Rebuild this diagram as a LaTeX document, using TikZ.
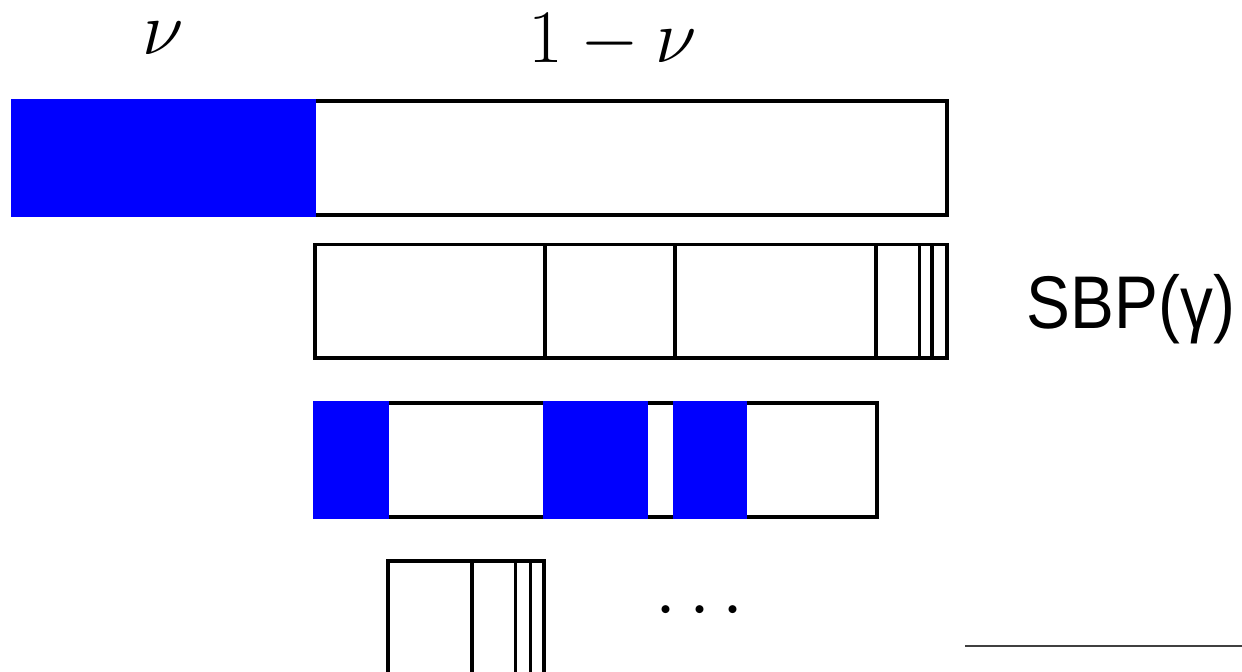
\RequirePackage{fix-cm}
\documentclass[tikz,border=0pt]{standalone}
\usepackage{fontspec}
\newfontfamily\sbpfont{Liberation Sans}
\begin{document}
\begin{tikzpicture}[x=0.02cm,y=-0.02cm]
  \tikzstyle{barStyle}=[line width=2pt,draw=black]
  \tikzstyle{blueStyle}=[fill=blue]
  \tikzstyle{mathStyle}=[inner sep=0pt,anchor=base,font=\fontsize{43}{50}\selectfont]
  \tikzstyle{sbpStyle}=[inner sep=0pt,anchor=base,font=\fontsize{42.5}{50}\sbpfont]
  \tikzstyle{ruleStyle}=[line width=1.2pt,draw=black!75]
  \clip (0,0) rectangle (1242,672);

  \begin{scope}
   % labels over the first bar
   \node[mathStyle](nu) at (163,55) {$\nu$};
   \node[mathStyle](oneminusnu) at (613,63) {$1-\nu$};

   % first bar
   \draw[barStyle] (316,101) -- (947,101) -- (947,215) -- (316,215);
   \fill[blueStyle] (11,99) rectangle (316,217);

   % second bar
   \draw[barStyle] (315,244.5) rectangle (947,358);
   \draw[barStyle] (545,244.5) -- (545,358);
   \draw[barStyle] (675,244.5) -- (675,358);
   \draw[barStyle] (876,244.5) -- (876,358);
   \draw[barStyle] (919.5,244.5) -- (919.5,358);
   \draw[barStyle] (932,244.5) -- (932,358);
   \node[sbpStyle](sbp) at (1131,329) {\scalebox{0.88}[1]{SBP(γ)}};

   % third bar
   \draw[barStyle] (315,403) rectangle (877,517);
   \fill[blueStyle] (312.5,401) rectangle (389,519);
   \fill[blueStyle] (543,401) rectangle (648,519);
   \fill[blueStyle] (673,401) rectangle (747,519);

   % fourth bar
   \draw[barStyle] (388,561) rectangle (544,700);
   \draw[barStyle] (472,561) -- (472,700);
   \draw[barStyle] (515.5,561) -- (515.5,700);
   \draw[barStyle] (530.5,561) -- (530.5,700);
   \node[mathStyle](dots) at (700,628) {$\cdots$};

   % rule at the bottom
   \coordinate (ruleL) at (965,646);
   \coordinate (ruleR) at (1242,646);
   \draw[ruleStyle] (ruleL) -- (ruleR);
  \end{scope}

\end{tikzpicture}
\end{document}
